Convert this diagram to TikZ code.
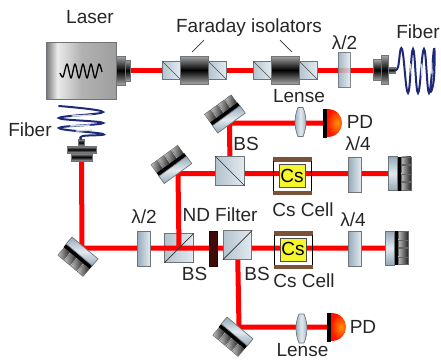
\documentclass[tikz,border=0pt]{standalone}
\usepackage{fontspec}
\setmainfont{Liberation Sans}
\definecolor{beamred}{HTML}{FF0000}
\definecolor{edgegray}{HTML}{6E7478}
\definecolor{glassdark}{HTML}{93A9B8}
\definecolor{glasslight}{HTML}{E2EAF0}
\definecolor{cellbrown}{HTML}{7A5238}
\definecolor{cellyellow}{HTML}{F6F62E}
\definecolor{filterdark}{HTML}{3E0A0A}
\definecolor{fibernavy}{HTML}{1E2A78}
\pgfdeclarehorizontalshading{laserbody}{100bp}{color(0bp)=(black!55); color(25bp)=(black!55); color(33bp)=(black!8); color(50bp)=(black!30); color(75bp)=(black!38); color(100bp)=(black!38)}
\begin{document}
\begin{tikzpicture}[
                x=1pt, y=-1pt,
                font=\fontsize{19}{22}\selectfont,
                lab/.style={anchor=base, inner sep=0pt, text=black!85},
                beam/.style={beamred, line width=5pt},
                steel/.style={draw=edgegray, line width=0.7pt, top color=black!35, bottom color=black!35, middle color=black},
                plate/.style={draw=edgegray, line width=0.8pt, minimum width=13pt, minimum height=35pt, inner sep=0pt, left color=glassdark, right color=glasslight},
                cube/.style={draw=edgegray, line width=0.8pt, minimum size=28.5pt, inner sep=0pt, left color=glassdark!70!white, right color=glasslight},
                fiber/.style={fibernavy, line width=2pt, line cap=round},
                glint/.style={black!15, line width=1.4pt, line cap=round},
                mirror/.pic={
                    \foreach \kx in {-13,-4.5,4,12.5} {
                        \path[draw=black!60, line width=0.4pt, left color=black!25, right color=black!85, middle color=black!55] (\kx-3.8,-23) rectangle (\kx+3.8,-13);
                    }
                    \fill[black] (-17,-13) rectangle (17,-9);
                    \path[draw=edgegray, line width=0.7pt, top color=glassdark, bottom color=glassdark, middle color=glasslight] (-17,-9) rectangle (17,0);
                },
                isolator/.pic={
                    \path[draw=edgegray, line width=0.8pt, left color=glassdark!70!white, right color=glasslight] (-32,-9) rectangle (-14,9);
                    \draw[black!70, line width=0.7pt] (-32,-9) -- (-14,9);
                    \path[draw=edgegray, line width=0.8pt, left color=glassdark!70!white, right color=glasslight] (14,-9) rectangle (32,9);
                    \draw[black!70, line width=0.7pt] (14,-9) -- (32,9);
                    \path[steel] (-14,-14) rectangle (14,14);
                },
                coupler/.pic={
                    \path[steel] (15,-3) rectangle (22,3);
                    \path[steel] (0,-10.5) rectangle (8,10.5);
                    \path[steel] (8,-14.5) rectangle (15,14.5);
                },
                lens/.pic={
                    \path[draw=edgegray, line width=0.7pt, left color=glassdark, right color=glassdark, middle color=glasslight]
                        (-2.5,-14.5) .. controls (-6.5,-5) and (-6.5,5) .. (-2.5,14.5) -- (2.5,14.5)
                        .. controls (6.5,5) and (6.5,-5) .. (2.5,-14.5) -- cycle;
                },
                detector/.pic={
                    \path[shading=radial, inner color=orange!85!yellow, outer color=red!85!orange]
                        (0,-14) .. controls (20,-14) and (20,14) .. (0,14) -- cycle;
                    \fill[black] (-4,-14.5) rectangle (0,14.5);
                },
                cellframe/.pic={
                    \fill[cellbrown] (-19.5,-19) rectangle (19.5,-14.5);
                    \fill[cellbrown] (-19.5,14.5) rectangle (19.5,19);
                    \draw[black, line width=1.3pt] (-19,-15) -- (-19,15) (19,-15) -- (19,15);
                    \draw[black!70, line width=0.8pt, fill=cellyellow] (-13,-11.5) rectangle (13,11.5);
                }
            ]
            \useasboundingbox (0,0) rectangle (441,360);

            % positions of the optics
            \coordinate (lsrOut) at (130,70);
            \coordinate (cplR) at (373,70);
            \coordinate (cplL) at (81.5,161);
            \coordinate (M1) at (82,248);
            \coordinate (M2) at (178,173.5);
            \coordinate (M3) at (229.5,123);
            \coordinate (M4) at (239,327);
            \coordinate (E1) at (388,173.5);
            \coordinate (E2) at (385,248);
            \coordinate (PD1) at (327,123);
            \coordinate (PD2) at (331,327);
            \coordinate (B1) at (179,248);
            \coordinate (B2) at (237.5,245);
            \coordinate (B3) at (230,171);

            % bodies of the cells sit under the beam
            \fill[white] (275,161) rectangle (311,191);
            \fill[white] (276,235) rectangle (312,265);
            \node[cube] (BS1) at (B1) {};

            % beams
            \draw[beam] (lsrOut) -- (cplR);
            \draw[beam, line join=miter] (cplL) -- (M1) -- (E2);
            \draw[beam, line join=miter] (B1) -- (M2) -- (E1);
            \draw[beam, line join=miter] (B3) -- (M3) -- (PD1);
            \draw[beam, line join=miter] (B2) -- (M4) -- (PD2);

            % laser
            \draw[edgegray, line width=0.8pt, shading=laserbody] (46,42) rectangle (116,99);
            \path[steel] (116,56) rectangle (125,85);
            \path[steel] (125,60) rectangle (130,81);
            \draw[black, line width=1.3pt, line join=round] plot[smooth, tension=0.5] coordinates {(60,73) (63,77) (67,64) (71,78) (75,64) (79,78) (83,64) (87,78) (91,64) (95,78) (99,64) (102,72)};
            \node[lab] (laserT) at (90,23) {Laser};

            % isolators
            \pic (isoA) at (194,70) {isolator};
            \pic (isoB) at (285,70) {isolator};
            \node[lab] (isoT) at (249,32) {Faraday isolators};
            \draw[black!80, line width=0.7pt] (isoT.south west) ++(28,4) -- (192,52);
            \draw[black!80, line width=0.7pt] (isoT.south east) ++(-42,4) -- (292,52);

            % fiber, top right
            \node[plate, draw=edgegray, opacity=0.85, minimum width=12pt] (HW1) at (344,69.5) {};
            \node[lab] (HW1T) at (344.5,49) {λ/2};
            \pic (cplA) at (cplR) {coupler};
            \draw[fiber] plot[smooth, tension=0.75] coordinates {(395,70) (398,67) (402,49) (408,93) (413,49) (418,93) (424,49) (429,93) (434,49) (434,78) (431,92)};
            \draw[glint] (410.5,64) -- (411.5,74) (421,64) -- (422,76) (431.5,62) -- (432,74);
            \node[lab] (fibT) at (418,38) {Fiber};

            % fiber, left
            \pic[rotate=90] (cplB) at (cplL) {coupler};
            \draw[fiber] plot[smooth, tension=0.75] coordinates {(81,139) (83,136) (103,134) (59,128) (103,123) (59,118) (103,112) (59,106)};
            \draw[glint] (70,126) -- (90,125) (72,116) -- (92,115) (76,131) -- (92,130);
            \node[lab] (fibL) at (30,136) {Fiber};

            % mirrors
            \pic[rotate=140] (mirA) at (85,248) {mirror};
            \pic[rotate=36] (mirB) at (M2) {mirror};
            \pic[rotate=36] (mirC) at (231.5,123) {mirror};
            \pic[rotate=140] (mirD) at (240,328) {mirror};
            \pic[rotate=-90] (mirE) at (E1) {mirror};
            \pic[rotate=-90] (mirF) at (E2) {mirror};

            % upper arm
            \pic (lensA) at (300.5,122) {lens};
            \pic (pdA) at (PD1) {detector};
            \node[lab] (lensAT) at (299,102) {Lense};
            \node[lab] (pdAT) at (360,128) {PD};
            \node[cube] (BS3) at (B3) {};
            \draw[black!80, line width=0.7pt] (BS3.north west) -- (BS3.south east);
            \node[lab] (BS3T) at (246,150) {BS};
            \pic (cellA) at (292.5,176) {cellframe};
            \node[anchor=base, inner sep=0pt] (csA) at (292,182) {Cs};
            \node[lab] (cellAT) at (303,216) {Cs Cell};
            \node[plate] (QW1) at (354.5,174.5) {};
            \node[lab] (QW1T) at (358,150) {λ/4};

            % lower arm
            \node[plate] (HW2) at (143.5,248.5) {};
            \node[lab] (HW2T) at (144,223) {λ/2};
            \draw[black!80, line width=0.7pt] (BS1.south west) -- (BS1.north east);
            \node[lab] (BS1T) at (194.5,280) {BS};
            \node[draw=filterdark!60!black, fill=filterdark, minimum width=8pt, minimum height=35pt, inner sep=0pt] (ND) at (213,248.5) {};
            \node[lab] (NDT) at (220,221) {ND Filter};
            \node[cube] (BS2) at (B2) {};
            \draw[black!80, line width=0.7pt] (BS2.south west) -- (BS2.north east);
            \node[lab] (BS2T) at (257,280) {BS};
            \pic (cellB) at (293.5,250) {cellframe};
            \node[anchor=base, inner sep=0pt] (csB) at (293,255) {Cs};
            \node[lab] (cellBT) at (304,287) {Cs Cell};
            \node[plate] (QW2) at (354.5,248.5) {};
            \node[lab] (QW2T) at (353,226) {λ/4};

            % pick-off arm
            \pic (lensB) at (301.5,328.5) {lens};
            \pic (pdB) at (PD2) {detector};
            \node[lab] (lensBT) at (302.5,356.5) {Lense};
            \node[lab] (pdBT) at (363,333) {PD};
        \end{tikzpicture}
\end{document}
